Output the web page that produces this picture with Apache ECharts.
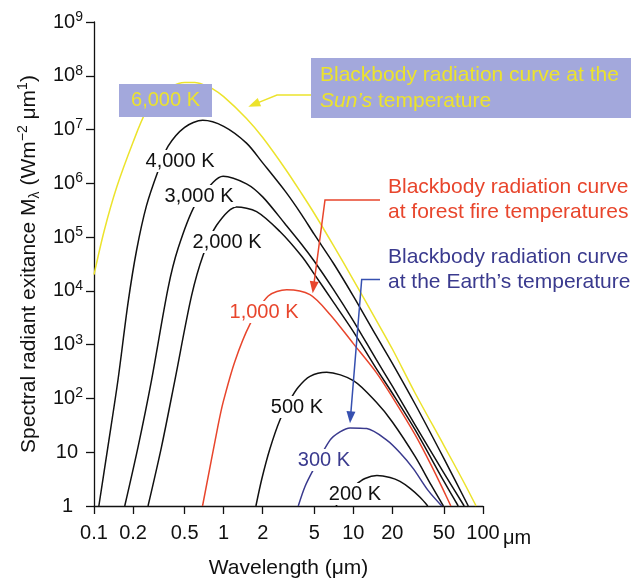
<!DOCTYPE html>
<html>
<head>
<meta charset="utf-8">
<script src="https://cdn.jsdelivr.net/npm/echarts@6/dist/echarts.min.js"></script>
<style>
  html, body { margin: 0; padding: 0; background: #fff; }
  #chart { width: 644px; height: 584px; }
</style>
</head>
<body>
<div id="chart"></div>
<script>
// wavelength (um) / spectral exitance (W m-2 um-1)
var xTicks = [0.1, 0.2, 0.5, 1, 2, 5, 10, 20, 50, 100];

var k6000 = [[0.1, 2.0e4], [0.12, 1.33e5], [0.15, 8.6e5], [0.2, 5.8e6], [0.25, 2.08e7], [0.3, 3.6e7],
  [0.4, 6.3e7], [0.5, 7.5e7], [0.6, 7.5e7], [0.7, 6.85e7], [0.8, 5.96e7], [1, 4.1e7], [1.5, 1.61e7],
  [2, 7.1e6], [3, 1.83e6], [4, 6.4e5], [5, 2.75e5], [7, 7.1e4], [10, 1.61e4], [15, 2870], [20, 830],
  [30, 125], [50, 13.3], [70, 2.98], [88.5, 1]];
var k4000 = [[0.109, 1], [0.128, 12.6], [0.153, 218], [0.183, 5980], [0.213, 5.7e4], [0.254, 3.85e5],
  [0.312, 1.7e6], [0.373, 4.9e6], [0.5, 1.1e7], [0.69, 1.49e7], [1, 1.15e7], [1.5, 5.6e6], [2, 2.4e6],
  [3, 7.0e5], [4, 2.6e5], [5, 1.12e5], [7, 3.3e4], [10, 8000], [15, 1470], [20, 450], [30, 78],
  [50, 7.6], [77, 1]];
var k3000 = [[0.1726, 1], [0.2187, 12.6], [0.2774, 215], [0.3726, 1.13e4], [0.4453, 6.2e4], [0.599, 3.9e5],
  [0.83, 1.05e6], [0.99, 1.36e6], [1.5, 9.8e5], [2, 5.6e5], [3, 1.72e5], [4, 7.3e4], [5, 3.56e4],
  [7, 1.08e4], [10, 2780], [15, 531], [20, 169], [30, 32], [50, 4.1], [71.6, 1]];
var k2000 = [[0.261, 1], [0.3316, 12.6], [0.42, 215], [0.565, 8050], [0.695, 4.66e4], [0.882, 1.66e5],
  [1.258, 3.64e5], [1.795, 2.98e5], [2.716, 1.27e5], [4, 4.4e4], [5, 2.05e4], [7, 6240], [10, 1750],
  [15, 362], [20, 125], [30, 26], [50, 2.86], [64.4, 1]];
var k1000 = [[0.687, 1], [0.907, 32.2], [0.991, 85.5], [1.22, 488], [1.593, 2380], [2.206, 8050], [3.06, 1.05e4],
  [4.63, 8500], [6.61, 3640], [10, 1047], [15, 306], [20, 106], [30, 21], [40, 5.64], [50, 1.87], [56.5, 1]];
var k500 = [[1.773, 1], [1.972, 3.24], [2.274, 11.6], [2.716, 39.8], [3.245, 93], [3.76, 162], [4.63, 258],
  [6.23, 306], [10, 215], [15, 85.5], [20, 36.5], [30, 8.26], [40, 2.41], [49.5, 1]];
var k300 = [[3.76, 1], [4.24, 2.31], [4.91, 4.7], [6.61, 16.8], [7.89, 23.9], [9.43, 28.3], [12.7, 27.5],
  [18.1, 16.8], [22.9, 9.79], [29, 4.96], [37.7, 1.95], [48.1, 1]];
var k200 = [[7.35, 1], [8.63, 1.58], [10.3, 2.41], [12.3, 3.24], [15.2, 3.68], [19.2, 3.38], [22.9, 2.86],
  [27.4, 2.12], [32.7, 1.45], [37.5, 1]];

var FONT = '"Liberation Sans", Arial, Helvetica, sans-serif';
var YELLOW = '#ece32c';
var LAVENDER = '#a3a8dc';
var RED = '#e8452c';
var NAVY = '#3a3a8e';

var chart = echarts.init(document.getElementById('chart'));

function curve(name, data, color) {
  return {
    name: name, type: 'line', data: data, symbol: 'none', smooth: 0.3, silent: true,
    lineStyle: { color: color, width: 1.5 }
  };
}

function tag(text, x, y, color) {
  return {
    type: 'text', z: 100,
    style: { text: text, x: x, y: y, fill: color, font: '20px ' + FONT, align: 'center',
      verticalAlign: 'middle', backgroundColor: '#fff', padding: [1, 2] }
  };
}

function note(text, x, y, color) {
  return {
    type: 'text', z: 101,
    style: { text: text, x: x, y: y, fill: color, font: '21px ' + FONT, align: 'left',
      verticalAlign: 'middle', rich: { i: { fontStyle: 'italic', fontSize: 21, fontFamily: FONT } } }
  };
}

function arrow(pts, color) {
  var n = pts.length, tip = pts[n - 1], from = pts[n - 2];
  var dx = tip[0] - from[0], dy = tip[1] - from[1];
  var len = Math.sqrt(dx * dx + dy * dy);
  var ux = dx / len, uy = dy / len, L = 12, W = 4.5;
  var bx = tip[0] - ux * L, by = tip[1] - uy * L;
  var line = pts.slice(0, n - 1).concat([[bx + ux * 2, by + uy * 2]]);
  return [
    { type: 'polyline', z: 100, shape: { points: line }, style: { stroke: color, lineWidth: 1.5, fill: null } },
    { type: 'polygon', z: 100, shape: { points: [tip, [bx - uy * W, by + ux * W], [bx + uy * W, by - ux * W]] },
      style: { fill: color } }
  ];
}

var graphics = [
  tag('4,000 K', 180, 161, '#111'),
  tag('3,000 K', 199, 196, '#111'),
  tag('2,000 K', 227, 242, '#111'),
  tag('1,000 K', 264, 312, RED),
  tag('500 K', 297, 407, '#111'),
  tag('300 K', 324, 460, NAVY),
  tag('200 K', 355, 494, '#111'),
  { type: 'rect', z: 99, shape: { x: 119, y: 84, width: 93, height: 33 }, style: { fill: LAVENDER } },
  { type: 'text', z: 100, style: { text: '6,000 K', x: 165.5, y: 100.5, fill: YELLOW, font: '20px ' + FONT,
    align: 'center', verticalAlign: 'middle' } },
  { type: 'rect', z: 99, shape: { x: 311, y: 58, width: 320, height: 60 }, style: { fill: LAVENDER } },
  note('Blackbody radiation curve at the', 320, 75, YELLOW),
  note('{i|Sun\u2019s} temperature', 320, 101, YELLOW),
  note('Blackbody radiation curve', 388, 187, RED),
  note('at forest fire temperatures', 388, 212, RED),
  note('Blackbody radiation curve', 388, 257, NAVY),
  note('at the Earth\u2019s temperature', 388, 282, NAVY),
  { type: 'text', z: 100, style: { text: '\u03bcm', x: 503, y: 538, fill: '#111', font: '20px ' + FONT,
    align: 'left', verticalAlign: 'middle' } }
].concat(
  arrow([[311, 95], [277, 95], [248.3, 106.7]], YELLOW),
  arrow([[380, 200], [325, 200], [312.7, 293.3]], RED),
  arrow([[380, 279.5], [361.7, 279.5], [350, 423.3]], '#3650b0')
);

var option = {
  animation: false,
  backgroundColor: '#fff',
  textStyle: { fontFamily: FONT },
  grid: { left: 94, right: 161, top: 22, bottom: 74, containLabel: false },
  xAxis: {
    type: 'log', logBase: 10, min: 0.1, max: 100,
    name: 'Wavelength (\u03bcm)', nameLocation: 'middle', nameGap: 52,
    nameTextStyle: { fontSize: 21, color: '#111', fontFamily: FONT },
    axisLine: { lineStyle: { color: '#111', width: 1.3 } },
    axisTick: { length: 8, inside: false, customValues: xTicks, lineStyle: { color: '#111', width: 1.3 } },
    axisLabel: {
      customValues: xTicks, margin: 17, fontSize: 20, color: '#111', fontFamily: FONT,
      formatter: function (v) { return String(v); }
    },
    splitLine: { show: false }, minorTick: { show: false }
  },
  yAxis: {
    type: 'log', logBase: 10, min: 1, max: 1e9,
    name: '{n|Spectral radiant exitance M}{sb|\u03bb}{n| (Wm}{sp|\u22122}{n| \u03bcm}{sp|1}{n|)}',
    nameLocation: 'middle', nameGap: 52, nameRotate: 90,
    nameTextStyle: {
      color: '#111',
      rich: {
        n: { fontSize: 21, lineHeight: 26, fontFamily: FONT, color: '#111' },
        sb: { fontSize: 14, lineHeight: 14, verticalAlign: 'bottom', fontFamily: FONT, color: '#111' },
        sp: { fontSize: 14, lineHeight: 14, verticalAlign: 'top', fontFamily: FONT, color: '#111' }
      }
    },
    axisLine: { show: true, lineStyle: { color: '#111', width: 1.3 } },
    axisTick: { show: true, length: 8, inside: false, lineStyle: { color: '#111', width: 1.3 } },
    axisLabel: {
      margin: 11, color: '#111',
      formatter: function (v) {
        var e = Math.round(Math.log10(v));
        if (e === 0) return '{o|1}';
        if (e === 1) return '{t|10}';
        return '{b|10}{s|' + e + '}';
      },
      rich: {
        o: { fontSize: 20, lineHeight: 24, padding: [0, 10, 0, 0], fontFamily: FONT, color: '#111' },
        t: { fontSize: 20, lineHeight: 24, padding: [0, 5, 0, 0], fontFamily: FONT, color: '#111' },
        b: { fontSize: 20, lineHeight: 24, fontFamily: FONT, color: '#111' },
        s: { fontSize: 14, lineHeight: 14, verticalAlign: 'top', fontFamily: FONT, color: '#111' }
      }
    },
    splitLine: { show: false }, minorTick: { show: false }
  },
  series: [
    curve('6,000 K', k6000, YELLOW),
    curve('4,000 K', k4000, '#111'),
    curve('3,000 K', k3000, '#111'),
    curve('2,000 K', k2000, '#111'),
    curve('1,000 K', k1000, RED),
    curve('500 K', k500, '#111'),
    curve('300 K', k300, NAVY),
    curve('200 K', k200, '#111')
  ],
  graphic: { elements: graphics }
};

chart.setOption(option);
</script>
</body>
</html>
